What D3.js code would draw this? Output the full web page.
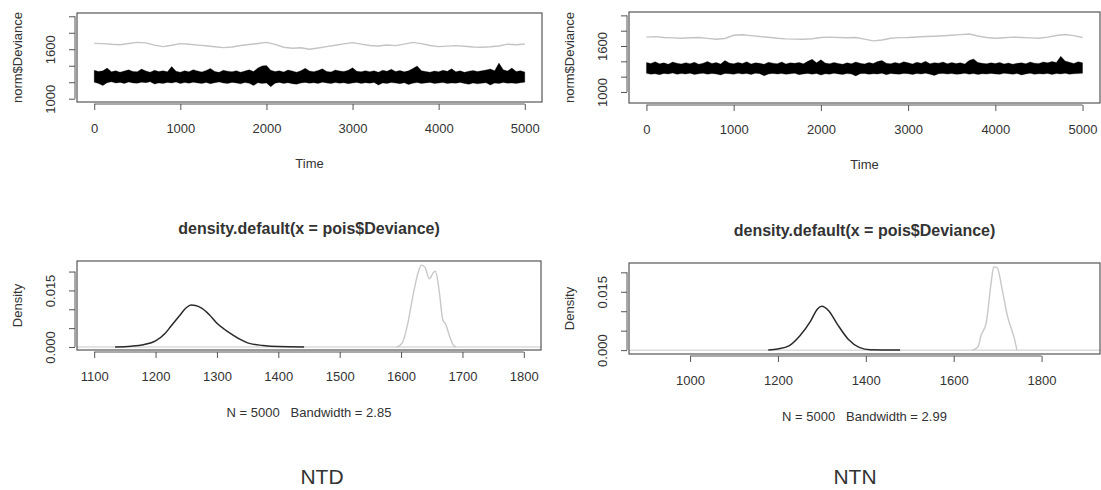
<!DOCTYPE html>
<html>
<head>
<meta charset="utf-8">
<script src="https://cdn.jsdelivr.net/npm/d3@7"></script>
<style>
  body { margin: 0; background: #fff; }
  text { font-family: "Liberation Sans", Arial, sans-serif; fill: #333; }
</style>
</head>
<body>
<svg id="chart" width="1101" height="490"></svg>
<script>
// ---- data ----
// trace plots: black band = envelope of the noisy chain, sampled every 50 iterations
const traceStep = 50;
const ntdBandHi = [1345,1330,1338,1372,1326,1340,1322,1335,1350,1330,
  1328,1360,1336,1322,1345,1330,1338,1326,1390,1334,
  1322,1340,1328,1352,1336,1325,1342,1368,1330,1320,
  1345,1334,1328,1340,1322,1336,1350,1330,1372,1398,
  1402,1345,1330,1338,1325,1348,1336,1322,1340,1370,
  1335,1328,1342,1362,1330,1325,1348,1336,1330,1344,
  1375,1332,1326,1340,1328,1338,1322,1346,1334,1358,
  1330,1342,1326,1338,1366,1398,1340,1330,1322,1336,
  1328,1345,1332,1362,1326,1338,1320,1334,1342,1330,
  1338,1348,1360,1340,1432,1352,1336,1372,1330,1340,1325];
const ntdBandLo = [1200,1185,1160,1195,1205,1190,1198,1186,1202,1192,
  1188,1200,1195,1206,1178,1192,1186,1198,1190,1202,
  1184,1196,1188,1200,1192,1186,1198,1182,1194,1204,
  1190,1186,1198,1192,1180,1196,1188,1160,1194,1186,
  1192,1145,1188,1198,1186,1194,1182,1176,1190,1198,
  1188,1194,1186,1200,1192,1184,1196,1188,1194,1182,
  1190,1198,1186,1194,1188,1198,1165,1192,1186,1196,
  1190,1182,1194,1172,1188,1196,1186,1192,1198,1184,
  1190,1196,1184,1192,1188,1198,1186,1174,1192,1180,
  1188,1194,1166,1190,1184,1196,1188,1192,1186,1194,1200];
const ntnBandHi = [1385,1372,1395,1368,1380,1362,1390,1375,1366,1382,
  1370,1388,1362,1376,1398,1372,1384,1365,1410,1378,
  1368,1385,1372,1394,1366,1380,1374,1362,1388,1376,
  1370,1392,1366,1380,1374,1386,1368,1400,1428,1382,
  1420,1378,1368,1386,1372,1362,1380,1370,1392,1375,
  1366,1384,1372,1398,1410,1376,1368,1385,1372,1394,
  1380,1366,1388,1374,1400,1370,1382,1376,1390,1368,
  1384,1372,1380,1366,1412,1430,1386,1374,1368,1380,
  1372,1386,1366,1378,1362,1374,1380,1368,1390,1376,
  1372,1392,1380,1398,1386,1466,1404,1388,1372,1395,1380];
const ntnBandLo = [1245,1232,1238,1226,1242,1236,1248,1230,1240,1234,
  1244,1228,1238,1246,1232,1240,1236,1222,1242,1238,
  1230,1244,1236,1240,1228,1246,1238,1212,1236,1242,
  1234,1240,1230,1238,1244,1226,1236,1242,1232,1240,
  1220,1238,1232,1244,1236,1228,1240,1234,1210,1238,
  1242,1230,1238,1234,1244,1226,1240,1236,1232,1242,
  1238,1228,1240,1234,1246,1232,1216,1238,1242,1234,
  1240,1230,1236,1244,1232,1240,1228,1238,1234,1242,
  1236,1230,1244,1238,1232,1240,1222,1236,1244,1230,
  1238,1234,1242,1228,1240,1236,1244,1232,1238,1240,1244];

// grey chain, sampled every 100 iterations
const greyStep = 100;
const ntdGreyTrace = [1672,1668,1660,1655,1670,1684,1678,1650,1632,1648,
  1668,1660,1650,1642,1630,1620,1628,1645,1658,1670,
  1684,1660,1625,1612,1618,1600,1615,1632,1648,1665,
  1680,1662,1645,1640,1652,1644,1662,1684,1668,1645,
  1632,1638,1644,1636,1628,1624,1630,1640,1662,1655,1664];
const ntnGreyTrace = [1716,1722,1712,1706,1702,1708,1711,1700,1689,1698,
  1740,1747,1736,1724,1715,1702,1693,1690,1689,1695,
  1711,1716,1711,1708,1711,1690,1667,1678,1702,1710,
  1711,1718,1724,1728,1733,1740,1748,1756,1730,1712,
  1702,1708,1716,1712,1706,1702,1716,1738,1751,1735,1711];

// density curves [deviance, density]
const ntdBlackDensity = [[1134,0],[1160,0.0002],[1180,0.0006],[1200,0.0016],[1215,0.0035],
  [1225,0.0055],[1240,0.0085],[1250,0.0104],[1258,0.0111],[1265,0.0110],[1275,0.0103],
  [1288,0.0085],[1300,0.0063],[1312,0.0047],[1325,0.0033],[1338,0.0020],[1350,0.0011],
  [1375,0.0004],[1400,0.0001],[1442,0]];
const ntdGreyDensity = [[1593,0],[1602,0.0011],[1610,0.0055],[1619,0.0133],[1628,0.0198],
  [1633,0.0217],[1639,0.0211],[1646,0.0181],[1653,0.0198],[1656,0.0201],[1662,0.0150],
  [1668,0.0072],[1673,0.0059],[1679,0.0029],[1686,0.0003],[1690,0]];
const ntnBlackDensity = [[1178,0],[1200,0.0003],[1225,0.0011],[1250,0.0037],[1275,0.0076],
  [1290,0.0106],[1300,0.0113],[1315,0.0102],[1335,0.0067],[1360,0.0028],[1385,0.0007],
  [1410,0.0001],[1478,0]];
const ntnGreyDensity = [[1642,0],[1655,0.0008],[1662,0.0037],[1674,0.0070],[1686,0.0180],
  [1691,0.0214],[1699,0.0212],[1710,0.0158],[1722,0.0089],[1738,0.0030],[1744,0]];

// axis ticks and labels
const traceXTicks = [0, 1000, 2000, 3000, 4000, 5000];
const traceYTicks = [1000, 1200, 1400, 1600, 1800, 2000];
const traceYLabels = [1000, 1600];
const densYTicks = [0, 0.005, 0.010, 0.015, 0.020];
const densYLabels = [0, 0.015];
const ntdDensXTicks = [1100, 1200, 1300, 1400, 1500, 1600, 1700, 1800];
const ntnDensXTicks = [1000, 1200, 1400, 1600, 1800];
const bandwidths = ["2.85", "2.99"];
const groupNames = ["NTD", "NTN"];

const svg = d3.select("#chart");
const lineCol = "#555";

function frame(g, box) {
  g.append("rect")
    .attr("x", box.l).attr("y", box.t)
    .attr("width", box.r - box.l).attr("height", box.b - box.t)
    .attr("fill", "none").attr("stroke", lineCol).attr("stroke-width", 1.2);
}

function xAxis(g, box, x, ticks, fmt) {
  const ax = g.append("g").attr("transform", `translate(0,${box.b + 2})`)
    .call(d3.axisBottom(x).tickValues(ticks).tickSize(6).tickFormat(fmt));
  ax.select(".domain").remove();
  ax.selectAll("line").attr("stroke", lineCol);
  ax.append("line")
    .attr("x1", x(ticks[0])).attr("x2", x(ticks[ticks.length - 1]))
    .attr("stroke", lineCol);
  ax.selectAll("text").attr("y", 29).attr("dy", 0)
    .style("font-size", "13px").attr("fill", "#333");
}

function yAxis(g, box, y, ticks, labels, fmt) {
  const ax = g.append("g").attr("transform", `translate(${box.l - 2},0)`)
    .call(d3.axisLeft(y).tickValues(ticks).tickSize(6)
      .tickFormat((d) => (labels.includes(d) ? fmt(d) : "")));
  ax.select(".domain").remove();
  ax.selectAll("line").attr("stroke", lineCol);
  ax.append("line")
    .attr("y1", y(ticks[0])).attr("y2", y(ticks[ticks.length - 1]))
    .attr("stroke", lineCol);
  ax.selectAll("text")
    .attr("transform", "rotate(-90)")
    .attr("x", 0).attr("y", -20).attr("dy", 0)
    .attr("text-anchor", "middle")
    .style("font-size", "13px").attr("fill", "#333");
}

function yTitle(g, box, label) {
  g.append("text")
    .attr("transform", `translate(${box.l - 55},${(box.t + box.b) / 2}) rotate(-90)`)
    .attr("text-anchor", "middle").style("font-size", "13px")
    .text(label);
}

function tracePanel(box, hi, lo, grey, yDomain) {
  const g = svg.append("g");
  const x = d3.scaleLinear().domain([-200, 5200]).range([box.l, box.r]);
  const y = d3.scaleLinear().domain(yDomain).range([box.b, box.t]);

  g.append("path")
    .attr("d", d3.line()
      .x((d, i) => x(i * greyStep))
      .y((d) => y(d))(grey))
    .attr("fill", "none").attr("stroke", "#c4c4c4").attr("stroke-width", 1.4);

  g.append("path")
    .attr("d", d3.area()
      .x((d, i) => x(i * traceStep))
      .y0((d, i) => y(lo[i]))
      .y1((d) => y(d))(hi))
    .attr("fill", "#000").attr("stroke", "#000")
    .attr("stroke-width", 0.6).attr("stroke-opacity", 0.5);

  frame(g, box);
  xAxis(g, box, x, traceXTicks, d3.format("d"));
  yAxis(g, box, y, traceYTicks, traceYLabels, d3.format("d"));
  yTitle(g, box, "norm$Deviance");
  g.append("text")
    .attr("x", (box.l + box.r) / 2).attr("y", box.b + 66)
    .attr("text-anchor", "middle").style("font-size", "13px")
    .text("Time");
}

function densityPanel(box, xDomain, yDomain, xTicks, black, grey, bw) {
  const g = svg.append("g");
  const x = d3.scaleLinear().domain(xDomain).range([box.l, box.r]);
  const y = d3.scaleLinear().domain(yDomain).range([box.b, box.t]);
  const line = d3.line().x((d) => x(d[0])).y((d) => y(d[1])).curve(d3.curveMonotoneX);

  g.append("line")
    .attr("x1", box.l).attr("x2", box.r)
    .attr("y1", y(0)).attr("y2", y(0))
    .attr("stroke", "#c8c8c8").attr("stroke-width", 1);
  g.append("path").attr("d", line(grey))
    .attr("fill", "none").attr("stroke", "#c8c8c8").attr("stroke-width", 1.4);
  g.append("path").attr("d", line(black))
    .attr("fill", "none").attr("stroke", "#2a2a2a").attr("stroke-width", 1.5);

  frame(g, box);
  xAxis(g, box, x, xTicks, d3.format("d"));
  yAxis(g, box, y, densYTicks, densYLabels, d3.format(".3f"));
  yTitle(g, box, "Density");

  const cx = (box.l + box.r) / 2;
  g.append("text")
    .attr("x", cx).attr("y", box.t - 27)
    .attr("text-anchor", "middle")
    .style("font-size", "16px").style("font-weight", "bold").attr("fill", "#222")
    .text("density.default(x = pois$Deviance)");
  g.append("text")
    .attr("x", cx).attr("y", box.b + 67)
    .attr("text-anchor", "middle").style("font-size", "13px")
    .attr("xml:space", "preserve")
    .text(`N = 5000   Bandwidth = ${bw}`);
}

tracePanel({ l: 77, r: 542, t: 13, b: 102 }, ntdBandHi, ntdBandLo, ntdGreyTrace, [960, 2040]);
tracePanel({ l: 629, r: 1100, t: 12, b: 103 }, ntnBandHi, ntnBandLo, ntnGreyTrace, [856, 2044]);

densityPanel({ l: 77, r: 541, t: 261, b: 350 }, [1072, 1828], [-0.0008, 0.0228],
  ntdDensXTicks, ntdBlackDensity, ntdGreyDensity, bandwidths[0]);
densityPanel({ l: 629, r: 1100, t: 263, b: 354 }, [861, 1933], [-0.001, 0.0224],
  ntnDensXTicks, ntnBlackDensity, ntnGreyDensity, bandwidths[1]);

// group captions under each column
svg.selectAll(".caption")
  .data(groupNames)
  .enter()
  .append("text")
  .attr("class", "caption")
  .attr("x", (d, i) => [322, 855][i])
  .attr("y", 484)
  .attr("text-anchor", "middle")
  .style("font-size", "21px").attr("fill", "#111")
  .text((d) => d);
</script>
</body>
</html>
